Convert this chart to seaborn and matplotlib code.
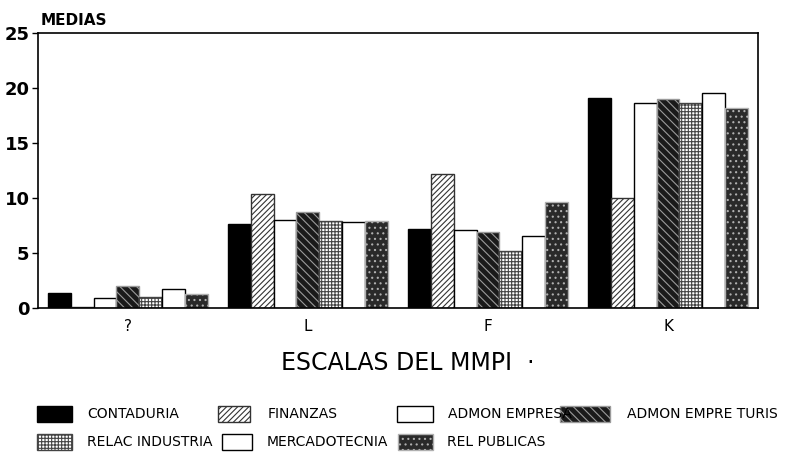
import matplotlib
matplotlib.use('Agg')
import matplotlib.pyplot as plt
import seaborn as sns
import pandas as pd
from matplotlib.patches import Rectangle

# data
escalas = ['?', 'L', 'F', 'K']
carreras = ['CONTADURIA', 'FINANZAS', 'ADMON EMPRESA', 'ADMON EMPRE TURIS',
            'RELAC INDUSTRIA', 'MERCADOTECNIA', 'REL PUBLICAS']
contaduria = [1.4, 7.6, 7.2, 19.1]
finanzas = [0.1, 10.4, 12.2, 10.0]
admon_empresa = [0.9, 8.0, 7.1, 18.6]
admon_turis = [2.0, 8.7, 6.9, 19.0]
relac_industria = [1.0, 7.9, 5.2, 18.6]
mercadotecnia = [1.7, 7.8, 6.5, 19.5]
rel_publicas = [1.3, 7.9, 9.6, 18.2]

series = [contaduria, finanzas, admon_empresa, admon_turis,
          relac_industria, mercadotecnia, rel_publicas]
rows = []
for c, vals in zip(carreras, series):
    for e, v in zip(escalas, vals):
        rows.append({'escala': e, 'carrera': c, 'media': v})
df = pd.DataFrame(rows)

# fill / hatch style for each career (face, edge/hatch colour, hatch)
estilos = [
    ('black', 'black', ''),
    ('white', '#333333', '//////'),
    ('white', 'black', ''),
    ('#1a1a1a', '#9a9a9a', '\\\\\\\\'),
    ('white', '#444444', '+++++'),
    ('white', 'black', ''),
    ('#2a2a2a', '#b0b0b0', '...'),
]

sns.set_style('white', {'text.color': 'black', 'axes.labelcolor': 'black',
                        'xtick.color': 'black', 'ytick.color': 'black'})
plt.rcParams['font.family'] = ['DejaVu Sans']
plt.rcParams['hatch.linewidth'] = 0.8

fig = plt.figure(figsize=(7.88, 4.57), dpi=100)
ax = fig.add_axes([0.048, 0.326, 0.914, 0.602])

sns.barplot(data=df, x='escala', y='media', hue='carrera', order=escalas,
            hue_order=carreras, width=0.89, gap=0, legend=False, ax=ax,
            saturation=1, linewidth=1.0)

for cont, (fc, ec, h) in zip(ax.containers, estilos):
    for bar in cont:
        bar.set_facecolor(fc)
        bar.set_edgecolor(ec)
        bar.set_hatch(h)

ax.set_xlim(-0.5, 3.5)
ax.set_ylim(0, 25)
ax.set_yticks([0, 5, 10, 15, 20, 25])
ax.tick_params(axis='y', labelsize=13, length=4, width=1, direction='out', pad=2, left=True)
ax.tick_params(axis='x', labelsize=11, length=0, pad=8)
for lab in ax.get_yticklabels():
    lab.set_fontweight('bold')
for sp in ax.spines.values():
    sp.set_visible(True)
    sp.set_color('black')
    sp.set_linewidth(1.2)
ax.set_xlabel('')
ax.set_ylabel('')
fig.text(408 / 788, 1 - 363 / 457, 'ESCALAS DEL MMPI  ·', fontsize=17,
         ha='center', va='center')
fig.text(0.051, 0.955, 'MEDIAS', fontsize=11, fontweight='bold', ha='left', va='center')

# hand-placed legend, as in the original (pixel positions)
W, H = 788.0, 457.0
leyenda = [
    # patch x, row y, patch width, text x, series index
    (37, 414, 35, 87, 0), (218, 414, 32, 268, 1), (397, 414, 36, 448, 2),
    (560, 414, 50, 627, 3),
    (37, 442, 35, 87, 4), (222, 442, 30, 267, 5), (398, 442, 35, 447, 6),
]
for px, py, pw, tx, i in leyenda:
    fc, ec, h = estilos[i]
    r = Rectangle((px / W, 1 - (py + 8) / H), pw / W, 16 / H, transform=fig.transFigure,
                  facecolor=fc, edgecolor=ec if h else 'black', hatch=h, linewidth=1.0)
    fig.patches.append(r)
    fig.text(tx / W, 1 - py / H, carreras[i], fontsize=10, ha='left', va='center')

fig.savefig('out.png', dpi=100)
